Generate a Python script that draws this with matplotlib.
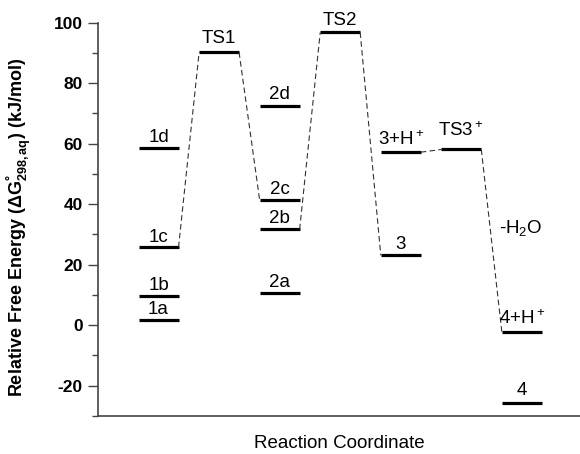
import matplotlib
matplotlib.use("Agg")
import matplotlib.pyplot as plt
from matplotlib.ticker import MultipleLocator

plt.rcParams['font.family'] = ['Liberation Sans', 'DejaVu Sans']
plt.rcParams['mathtext.fontset'] = 'custom'
plt.rcParams['mathtext.rm'] = 'Liberation Sans'
plt.rcParams['mathtext.it'] = 'Liberation Sans:italic'
plt.rcParams['mathtext.bf'] = 'Liberation Sans:bold'
plt.rcParams['axes.unicode_minus'] = False

# energy levels: (slot on reaction coordinate, energy kJ/mol, label)
slots = [1, 1, 1, 1, 2, 3, 3, 3, 3, 4, 5, 5, 6, 7, 7]
energies = [1.8, 9.7, 25.8, 58.6, 90.2, 10.8, 31.7, 41.3, 72.5, 96.8,
            23.1, 57.2, 58.1, -2.4, -25.7]
labels = ['1a', '1b', '1c', '1d', 'TS1', '2a', '2b', '2c', '2d', 'TS2',
          '3', '3+H$^+$', 'TS3$^+$', '4+H$^+$', '4']
label_gap = [4, 4.5, 3.5, 4.5, 7, 3.8, 4.5, 4.5, 5, 5.5, 4.5, 5, 10, 6, 6]

# dashed connections between levels (index from, index to)
links = [(2, 4), (4, 7), (6, 9), (9, 10), (11, 12), (12, 13)]

hw = 0.33

fig = plt.figure(figsize=(5.8, 4.54), dpi=100)
ax = fig.add_axes([98 / 580, 1 - 416 / 454, 482 / 580, (416 - 22.7) / 454])

for s, e, lab, g in zip(slots, energies, labels, label_gap):
    ax.plot([s - hw, s + hw], [e, e], color='black', lw=2.3, solid_capstyle='butt')
    ax.annotate(lab, (s, e), xytext=(0, g), textcoords='offset points',
                ha='center', va='baseline', fontsize=13.5)

for i, j in links:
    ax.plot([slots[i] + hw, slots[j] - hw], [energies[i], energies[j]],
            color='#333333', lw=0.8, ls=(0, (5, 3)))

ax.text(6.63, 32.3, '-H$_2$O', fontsize=13.5, ha='left', va='center')

ax.set_xlim(0, 7.96)
ax.set_ylim(-30, 100)
ax.set_xticks([])
ax.yaxis.set_major_locator(MultipleLocator(20))
ax.yaxis.set_minor_locator(MultipleLocator(10))
ax.tick_params(axis='y', which='major', length=7, width=1, color='#444444', pad=4)
ax.tick_params(axis='y', which='minor', length=4, width=1, color='#444444')
for lab in ax.get_yticklabels():
    lab.set_fontweight('bold')
    lab.set_fontsize(12.5)

for sp in ['top', 'right']:
    ax.spines[sp].set_visible(False)
for sp in ['left', 'bottom']:
    ax.spines[sp].set_color('#444444')
    ax.spines[sp].set_linewidth(1.2)

ax.set_xlabel('Reaction Coordinate', fontsize=13.5, labelpad=14)
ax.set_ylabel(r'Relative Free Energy ($\mathbf{ΔG^{°}_{298,aq}}$) (kJ/mol)',
              fontsize=13, fontweight='bold')
ax.yaxis.set_label_coords(-0.135, 0.48)

fig.savefig('out.png', dpi=100)
